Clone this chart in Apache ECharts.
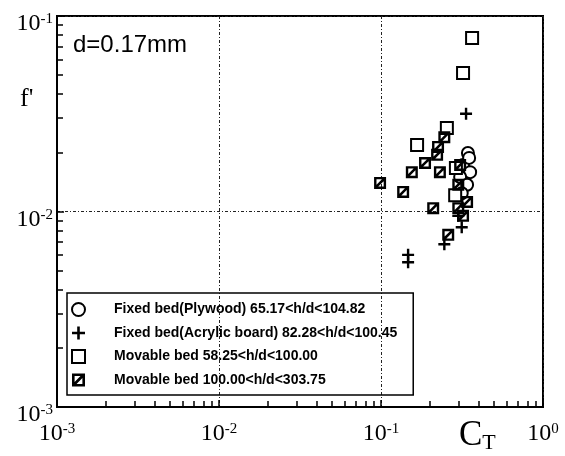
<!DOCTYPE html>
<html>
<head>
<meta charset="utf-8">
<script src="https://cdn.jsdelivr.net/npm/echarts@6/dist/echarts.min.js"></script>
<style>
  html, body { margin: 0; padding: 0; background: #fff; }
  #main { width: 565px; height: 456px; }
</style>
</head>
<body>
<div id="main"></div>
<script>
// series names (legend)
const seriesNames = [
  "Fixed bed(Plywood) 65.17<h/d<104.82",
  "Fixed bed(Acrylic board) 82.28<h/d<100.45",
  "Movable bed 58.25<h/d<100.00",
  "Movable bed 100.00<h/d<303.75"
];

// Fixed bed (Plywood) - open circles
const plywoodCt = [0.344, 0.321, 0.355, 0.308, 0.340, 0.315, 0.350];
const plywoodF  = [0.0199, 0.0173, 0.0159, 0.0150, 0.0137, 0.0124, 0.0188];

// Fixed bed (Acrylic board) - plus
const acrylicCt = [0.147, 0.147, 0.315, 0.246, 0.335, 0.300];
const acrylicF  = [0.0060, 0.0055, 0.0083, 0.0068, 0.0316, 0.0095];

// Movable bed 58.25 - open squares
const movableACt = [0.365, 0.321, 0.255, 0.167, 0.290, 0.287];
const movableAF  = [0.0771, 0.0511, 0.0267, 0.0219, 0.0167, 0.0121];

// Movable bed 100.00 - squares with slash
const movableBCt = [0.0987, 0.137, 0.155, 0.187, 0.222, 0.225, 0.246, 0.231, 0.210, 0.300, 0.340, 0.260, 0.300, 0.308, 0.321];
const movableBF  = [0.0140, 0.0126, 0.0159, 0.0177, 0.0195, 0.0214, 0.0240, 0.0159, 0.0104, 0.0104, 0.0112, 0.0076, 0.0137, 0.0173, 0.0095];

const plusPath = "path://M4 0H6V4H10V6H6V10H4V6H0V4H4Z";
const slashSquarePath = "path://M0 0H10V10H0Z M2 2V8H8V2Z M8 2L8 3.5L3.5 8L2 8L2 6.5L6.5 2Z";

function pairs(xs, ys) {
  return xs.map((x, i) => [x, ys[i]]);
}

function powLabel(v) {
  const e = Math.round(Math.log10(v));
  return "{b|10}{s|" + (e === 0 ? "0" : "-" + Math.abs(e)) + "}";
}

const serif = "'Liberation Serif', 'Times New Roman', serif";
const sans = "'Liberation Sans', Arial, sans-serif";

const labelRich = {
  b: { fontFamily: serif, fontSize: 24, color: "#000", lineHeight: 24, verticalAlign: "bottom" },
  s: { fontFamily: serif, fontSize: 15, color: "#000", lineHeight: 24, verticalAlign: "top", padding: [0, 0, 8, 0] }
};

const gridLine = { show: true, lineStyle: { color: "#222", width: 1, type: [3, 2, 1, 2] } };

const chart = echarts.init(document.getElementById("main"));
const option = {
  animation: false,
  backgroundColor: "#fff",
  grid: { left: 57, right: 22, top: 16, bottom: 49, show: true, borderColor: "#000", borderWidth: 2, backgroundColor: "transparent" },
  xAxis: {
    type: "log", logBase: 10, min: 0.001, max: 1,
    axisLine: { lineStyle: { color: "#000", width: 2 } },
    axisTick: { show: true, inside: true, length: 7, lineStyle: { color: "#000", width: 1.5 } },
    minorTick: { show: true, splitNumber: 9, length: 6, lineStyle: { color: "#000", width: 1.5 } },
    axisLabel: { margin: 15, formatter: powLabel, rich: labelRich },
    splitLine: gridLine
  },
  yAxis: {
    type: "log", logBase: 10, min: 0.001, max: 0.1,
    axisLine: { lineStyle: { color: "#000", width: 2 } },
    axisTick: { show: true, inside: true, length: 7, lineStyle: { color: "#000", width: 1.5 } },
    minorTick: { show: true, splitNumber: 9, length: 6, lineStyle: { color: "#000", width: 1.5 } },
    axisLabel: { margin: 4, formatter: powLabel, rich: labelRich, padding: [16, 0, 0, 0] },
    splitLine: gridLine
  },
  legend: {
    orient: "vertical",
    left: 67, top: 293,
    padding: [9, 16, 8, 4],
    itemGap: 9,
    itemWidth: 13, itemHeight: 13,
    borderColor: "#000", borderWidth: 1.5, borderRadius: 0,
    backgroundColor: "transparent",
    data: seriesNames,
    textStyle: { fontFamily: sans, fontWeight: "bold", fontSize: 14, color: "#000", padding: [0, 0, 0, 24] }
  },
  graphic: [
    { type: "text", left: 73, top: 33, style: { text: "d=0.17mm", fontFamily: sans, fontSize: 24, fill: "#000" } },
    { type: "text", left: 20, top: 86, style: { text: "f'", fontFamily: serif, fontSize: 26, fill: "#000" } },
    { type: "text", left: 459, top: 418, style: {
      text: "{c|C}{t|T}",
      rich: {
        c: { fontFamily: serif, fontSize: 35, fill: "#000", lineHeight: 36, verticalAlign: "top" },
        t: { fontFamily: serif, fontSize: 22, fill: "#000", lineHeight: 36, verticalAlign: "bottom" }
      }
    } }
  ],
  series: [
    {
      name: seriesNames[0], type: "scatter", symbol: "circle", symbolSize: 12,
      itemStyle: { color: "#fff", borderColor: "#000", borderWidth: 2, opacity: 1 },
      data: pairs(plywoodCt, plywoodF)
    },
    {
      name: seriesNames[1], type: "scatter", symbol: plusPath, symbolSize: 12,
      itemStyle: { color: "#000", opacity: 1 },
      data: pairs(acrylicCt, acrylicF)
    },
    {
      name: seriesNames[2], type: "scatter", symbol: "rect", symbolSize: 12,
      itemStyle: { color: "#fff", borderColor: "#000", borderWidth: 2, opacity: 1 },
      data: pairs(movableACt, movableAF)
    },
    {
      name: seriesNames[3], type: "scatter", symbol: slashSquarePath, symbolSize: 12,
      itemStyle: { color: "#000", opacity: 1 },
      data: pairs(movableBCt, movableBF)
    }
  ]
};
chart.setOption(option);
</script>
</body>
</html>
